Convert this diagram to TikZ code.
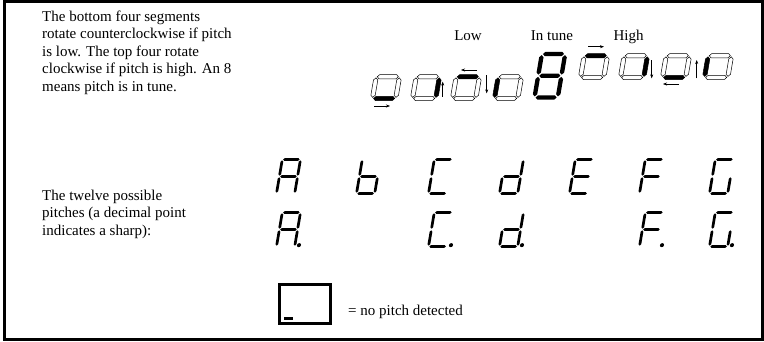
\documentclass[tikz,border=0pt]{standalone}
\usepackage{fontspec}
\setmainfont{Liberation Serif}
\usetikzlibrary{arrows.meta, positioning}

\newcommand{\segW}{0.535}
\newcommand{\segT}{0.09}
\newcommand{\segG}{0.025}

% one horizontal segment at height #2, one vertical at x #2 from #3 to #4
\newcommand{\hseg}[2]{\path[#1] ({\segG},{#2}) -- ({\segG+\segT/2},{#2+\segT/2}) -- ({\segW-\segG-\segT/2},{#2+\segT/2}) -- ({\segW-\segG},{#2}) -- ({\segW-\segG-\segT/2},{#2-\segT/2}) -- ({\segG+\segT/2},{#2-\segT/2}) -- cycle;}
\newcommand{\vseg}[4]{\path[#1] ({#2},{#3+\segG}) -- ({#2+\segT/2},{#3+\segG+\segT/2}) -- ({#2+\segT/2},{#4-\segG-\segT/2}) -- ({#2},{#4-\segG}) -- ({#2-\segT/2},{#4-\segG-\segT/2}) -- ({#2-\segT/2},{#3+\segG+\segT/2}) -- cycle;}

\newcommand{\dsega}[1]{\hseg{#1}{1}}
\newcommand{\dsegb}[1]{\vseg{#1}{\segW}{0.5}{1}}
\newcommand{\dsegc}[1]{\vseg{#1}{\segW}{0}{0.5}}
\newcommand{\dsegd}[1]{\hseg{#1}{0}}
\newcommand{\dsege}[1]{\vseg{#1}{0}{0}{0.5}}
\newcommand{\dsegf}[1]{\vseg{#1}{0}{0.5}{1}}
\newcommand{\dsegg}[1]{\hseg{#1}{0.5}}
\newcommand{\dsegp}[1]{\path[#1] ({\segW+0.12},0.04) circle (0.06);}

% position, size, thickness, segments, style
\newcommand{\lcdchar}[5]{%
  \begin{scope}[shift={#1}, xslant=0.17, scale=#2]
    \def\segT{#3}
    \foreach \s in {#4} {\csname dseg\s\endcsname{#5}}
  \end{scope}}

\begin{document}
\begin{tikzpicture}[x=1pt, y=1pt,
  litseg/.style={fill=black},
  offseg/.style={draw=black, fill=white, line width=0.5pt},
  tunearrow/.style={line width=0.5pt, -{Stealth[length=4pt, width=3pt]}},
  note/.style={font=\fontsize{15}{17.5}\selectfont, align=left, inner sep=0pt}]
\useasboundingbox (0,0) rectangle (764,341);
\draw[line width=3pt] (4.5,1.5) rectangle (762.5,339.5);

\node[note, anchor=north west] (rotnote) at (42,330.5) {The bottom four segments\\rotate counterclockwise if pitch\\is low. The top four rotate\\clockwise if pitch is high. An 8\\means pitch is in tune.};
\node[note, anchor=north west] (pitchnote) at (42,151.2) {The twelve possible\\pitches (a decimal point\\indicates a sharp):};

% tuning indicator
\node[note, anchor=base] (lowlabel) at (468,300.3) {Low};
\node[note, anchor=base] (tunelabel) at (552,300.3) {In tune};
\node[note, anchor=base] (highlabel) at (628.5,300.3) {High};

\foreach \px/\py/\lit/\sx/\sy/\ex/\ey [count=\i] in {
  372.5/242.5/d/374/235/390/235,
  412.5/242.5/c/442.7/244.3/442.7/259.3,
  452.5/242.5/g/477/271/461/271,
  494.5/242.5/e/486.7/266/486.7/247.7,
  580.5/263.5/g/588/294.3/604/294.3,
  620.5/263.5/c/651.7/281/651.7/262.7,
  662.5/263.5/d/679/257/663/257,
  704.5/263.5/e/696.7/262.7/696.7/281}{
  \lcdchar{(\px,\py)}{43.5}{0.1}{c,d,e,g}{offseg}
  \lcdchar{(\px,\py)}{43.5}{0.1}{\lit}{litseg}
  \coordinate (tail\i) at (\sx,\sy);
  \coordinate (tip\i) at (\ex,\ey);
  \draw[tunearrow] (tail\i) -- (tip\i);
}
\lcdchar{(534.5,243.5)}{43.5}{0.1}{a,b,c,d,e,f,g}{litseg}

% the twelve pitches
\lcdchar{(276.5,147.5)}{34}{0.08}{a,b,c,e,f,g}{litseg}
\lcdchar{(356.5,147.5)}{34}{0.08}{c,d,e,f,g}{litseg}
\lcdchar{(428.5,147.5)}{34}{0.08}{a,d,e,f}{litseg}
\lcdchar{(499.5,147.5)}{34}{0.08}{b,c,d,e,g}{litseg}
\lcdchar{(569.5,147.5)}{34}{0.08}{a,d,e,f,g}{litseg}
\lcdchar{(639.5,147.5)}{34}{0.08}{a,e,f,g}{litseg}
\lcdchar{(709.5,147.5)}{34}{0.08}{a,c,d,e,f}{litseg}

\lcdchar{(276.5,94.5)}{34}{0.08}{a,b,c,e,f,g,p}{litseg}
\lcdchar{(428.5,94.5)}{34}{0.08}{a,d,e,f,p}{litseg}
\lcdchar{(499.5,94.5)}{34}{0.08}{b,c,d,e,g,p}{litseg}
\lcdchar{(639.5,94.5)}{34}{0.08}{a,e,f,g,p}{litseg}
\lcdchar{(709.5,94.5)}{34}{0.08}{a,c,d,e,f,p}{litseg}

% no pitch
\node[draw, line width=2.7pt, minimum width=51.3pt, minimum height=39.3pt, inner sep=0pt] (nopitch) at (305,37) {};
\fill ([shift={(5.6,4.7)}]nopitch.south west) rectangle ++(9,3.3);
\node[note, anchor=base west] (nopitchtext) at (348,26) {= no pitch detected};
\end{tikzpicture}
\end{document}
